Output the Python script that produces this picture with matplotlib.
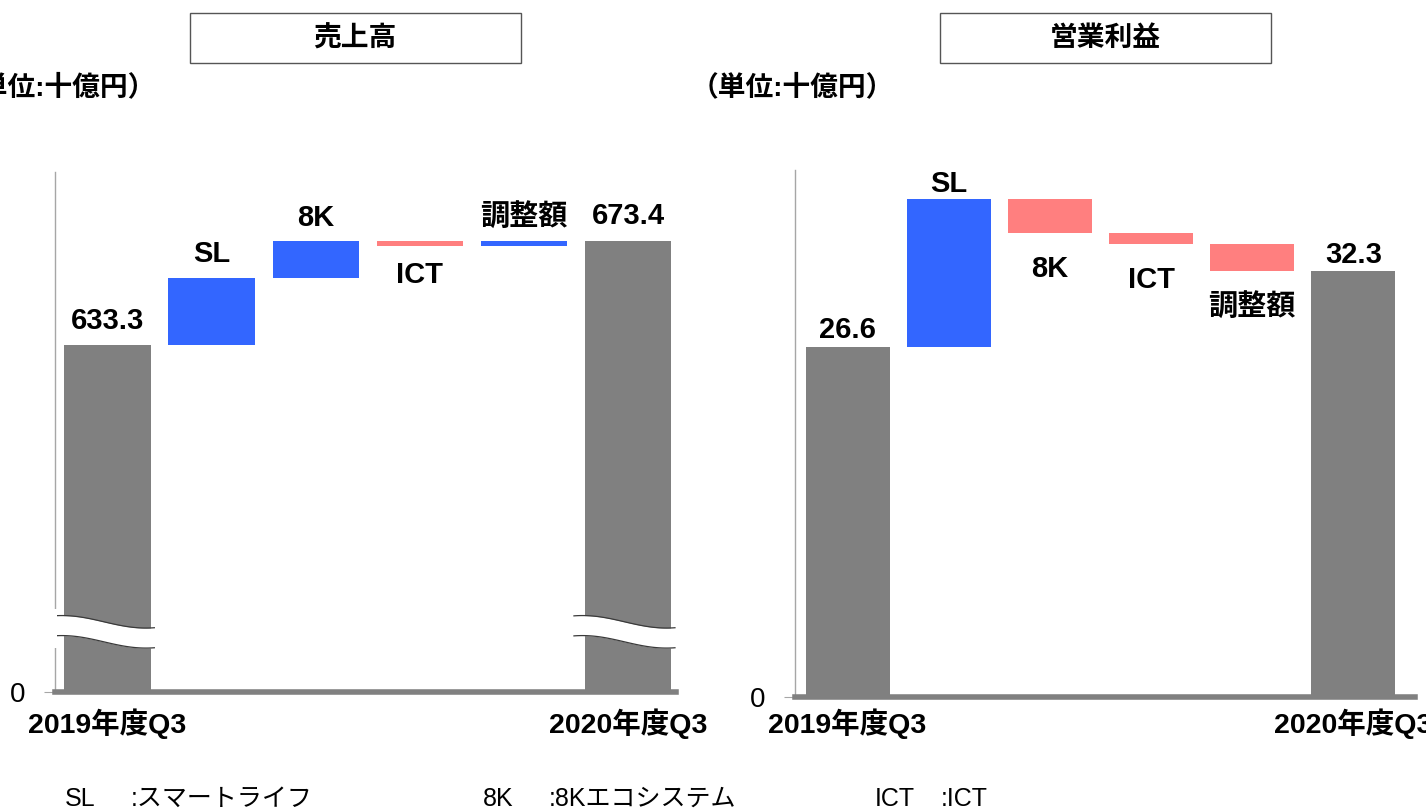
import matplotlib.pyplot as plt
import numpy as np
from matplotlib.patches import Rectangle

plt.rcParams['font.family'] = ['Liberation Sans', 'Noto Sans CJK JP']

W, H = 1426, 811

# data (十億円)
steps = ['2019年度Q3', 'SL', '8K', 'ICT', '調整額', '2020年度Q3']
sales_start = 633.3
sales_delta = [26.1, 14.0, -1.7, 1.7]
sales_end = 673.4
profit_start = 26.6
profit_delta = [11.2, -2.6, -0.8, -2.1]
profit_end = 32.3

titles = ['売上高', '営業利益']
unit = '（単位:十億円）'
notes_abbr = ['SL', '8K', 'ICT']
notes_desc = [':スマートライフ', ':8Kエコシステム', ':ICT']

GRAY = '#808080'
BLUE = '#3366ff'
PINK = '#ff7f7f'
LINE = '#a6a6a6'


def px(x, y):
    return x / W, 1 - y / H


def waterfall(ax, start, deltas, end, up, down, tot_up):
    x = np.arange(len(deltas) + 2)
    w = 0.83
    ax.bar(x[0], start, w, color=GRAY, zorder=2)
    ax.bar(x[-1], end, w, color=GRAY, zorder=2)
    for xi, v in ((x[0], start), (x[-1], end)):
        ax.annotate(f'{v:.1f}', (xi, v), xytext=(0, tot_up), textcoords='offset points',
                    ha='center', va='baseline', fontsize=21, fontweight='bold')
    level = start
    for i, d in enumerate(deltas, start=1):
        ax.bar(x[i], d, w, bottom=level, color=BLUE if d > 0 else PINK, zorder=2)
        if d > 0:
            ax.annotate(steps[i], (x[i], level + d), xytext=(0, up), textcoords='offset points',
                        ha='center', va='baseline', fontsize=21, fontweight='bold')
        else:
            ax.annotate(steps[i], (x[i], level + d), xytext=(0, -down), textcoords='offset points',
                        ha='center', va='top', fontsize=21, fontweight='bold')
        level += d
    ax.spines[['top', 'right']].set_visible(False)
    ax.spines['left'].set_color(LINE)
    ax.spines['left'].set_linewidth(1)
    ax.spines['bottom'].set_color(GRAY)
    ax.spines['bottom'].set_linewidth(4)
    ax.spines['bottom'].set_zorder(3)
    ax.set_xticks([x[0], x[-1]], [steps[0], steps[-1]], fontsize=20.5, fontweight='bold')
    ax.tick_params(axis='x', length=0)
    ax.tick_params(axis='y', length=8, color=LINE, labelsize=20)


def break_mark(ax, xc, ymid, amp, gap):
    t = np.linspace(0, 1, 80)
    xs = xc - 0.52 + 0.97 * t
    top = ymid - amp * np.sin(np.pi * 1.2 * (t - 0.5))
    ax.fill_between(xs, top - gap, top, color='white', lw=0, zorder=4)
    ax.plot(xs, top, color='#3a3a3a', lw=0.9, zorder=5)
    ax.plot(xs, top - gap, color='#3a3a3a', lw=0.9, zorder=5)


fig = plt.figure(figsize=(W / 100, H / 100), dpi=100)

# 売上高 (broken axis)
ax1 = fig.add_axes([55 / W, 1 - 692 / H, 621 / W, 520 / H])
waterfall(ax1, sales_start, sales_delta, sales_end, up=11, down=11, tot_up=12)
ax1.set_xlim(-0.504, 5.46)
ax1.set_ylim(500, 700)
ax1.set_yticks([500], ['0'])
ax1.tick_params(axis='y', pad=13)
ax1.tick_params(axis='x', pad=12)
break_mark(ax1, 0, 527, 2.4, 7.7)
break_mark(ax1, 5, 527, 2.4, 7.7)
ax1.add_patch(Rectangle((-0.56, 517), 0.08, 15, color='white', lw=0,
                        clip_on=False, zorder=6))

# 営業利益
ax2 = fig.add_axes([795 / W, 1 - 697 / H, 620 / W, 527 / H])
waterfall(ax2, profit_start, profit_delta, profit_end, up=5, down=16, tot_up=6)
ax2.set_xlim(-0.52, 5.61)
ax2.set_ylim(0, 40)
ax2.set_yticks([0], ['0'])
ax2.tick_params(axis='y', pad=13)
ax2.tick_params(axis='x', pad=8)

# title boxes and unit labels
for title, bx, ux in zip(titles, [190, 940], [156, 894]):
    fig.add_artist(Rectangle(px(bx, 63), 331 / W, 50 / H, transform=fig.transFigure,
                             fill=False, ec='#555555', lw=1))
    fig.text(*px(bx + 165, 39), title, ha='center', va='center',
             fontsize=20, fontweight='bold')
    fig.text(*px(ux, 88), unit, ha='right', va='center', fontsize=20, fontweight='bold')

# footnote
for abbr, desc, nx in zip(notes_abbr, notes_desc, [65, 483, 875]):
    fig.text(*px(nx, 799), abbr, ha='left', va='center', fontsize=18)
    fig.text(*px(nx + 66, 799), desc, ha='left', va='center', fontsize=18)

fig.savefig('out.png', dpi=100)
